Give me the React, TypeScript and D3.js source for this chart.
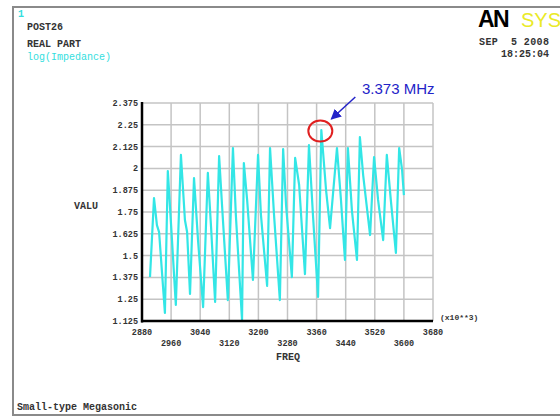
import React from 'react'
import * as d3 from 'd3'

// frequency in kHz (x10**3 Hz on the axis) and log(impedance)
const freq = [
  2902, 2913, 2921, 2927, 2943, 2951, 2960, 2973, 2987, 2998, 3004, 3012,
  3023, 3034, 3048, 3061, 3070, 3081, 3092, 3100, 3116, 3130, 3138, 3155,
  3160, 3169, 3185, 3199, 3207, 3224, 3232, 3243, 3259, 3268, 3276, 3292,
  3301, 3312, 3328, 3339, 3350, 3364, 3373, 3386, 3397, 3416, 3427, 3438,
  3446, 3457, 3471, 3479, 3488, 3507, 3518, 3529, 3543, 3553, 3564, 3578,
  3587, 3595, 3600,
]
const logImp = [
  1.377, 1.830, 1.675, 1.635, 1.171, 1.985, 1.675, 1.217, 2.077, 1.704, 1.635, 1.280,
  1.945, 1.589, 1.205, 1.974, 1.658, 1.234, 2.071, 1.790, 1.245, 2.117, 1.733, 1.131,
  2.031, 1.819, 1.360, 2.077, 1.733, 1.326, 2.117, 1.733, 1.245, 2.111, 1.790, 1.377,
  2.060, 1.905, 1.394, 2.134, 1.733, 1.263, 2.220, 1.876, 1.658, 2.117, 1.819, 1.475,
  2.117, 1.761, 1.475, 2.180, 1.962, 1.618, 2.065, 1.819, 1.589, 2.077, 1.819, 1.515,
  2.117, 1.991, 1.847,
]
const xTicks = [2880, 2960, 3040, 3120, 3200, 3280, 3360, 3440, 3520, 3600, 3680]
const yTicks = [1.125, 1.25, 1.375, 1.5, 1.625, 1.75, 1.875, 2, 2.125, 2.25, 2.375]
const peakFreq = 3373
const peakVal = 2.22

const mono = '"Liberation Mono", "DejaVu Sans Mono", monospace'
const sans = '"Liberation Sans", Arial, sans-serif'

export default function App() {
  const x = d3.scaleLinear().domain([2880, 3680]).range([142, 433])
  const y = d3.scaleLinear().domain([1.125, 2.375]).range([321, 103])
  const pts = freq.map((f, i) => [f, logImp[i]] as [number, number])
  const line = d3.line<[number, number]>().x(d => x(d[0])).y(d => y(d[1]))

  const cx = x(peakFreq) - 1
  const cy = y(peakVal) + 1

  return (
    <svg width={560} height={417} style={{ position: 'fixed', left: 0, top: 0, background: '#fff' }}>
      <defs>
        <marker id="ah" viewBox="0 0 10 10" refX="9" refY="5" markerWidth="7" markerHeight="7" orient="auto">
          <path d="M0,0 L10,5 L0,10 z" fill="#2323c8" />
        </marker>
      </defs>
      <rect x={13} y={7} width={560} height={408} fill="#fff" stroke="#8a8a8a" strokeWidth={2} />

      <g fontFamily={mono} fontSize={10} fontWeight="bold" fill="#333">
        <text x={18} y={17} fill="#33dede">1</text>
        <text x={27} y={30}>POST26</text>
        <text x={27} y={47}>REAL PART</text>
        <text x={27} y={60} fill="#33dede" fontWeight="normal">log(Impedance)</text>
        <text x={549} y={45} textAnchor="end" xmlSpace="preserve" textLength={70}>SEP  5 2008</text>
        <text x={549} y={57} textAnchor="end">18:25:04</text>
        <text x={17} y={410}>Small-type Megasonic</text>
      </g>

      <g fontFamily={sans}>
        <text x={478} y={27} fontSize={23} fontWeight="900" fill="#000" letterSpacing={-1.5}>AN</text>
        <text x={521} y={27} fontSize={20} fill="#eaea28">SYS</text>
      </g>

      {/* grid */}
      <g stroke="#c4c4c4" strokeWidth={1.5}>
        {xTicks.map(t => <line key={'gx' + t} x1={x(t)} x2={x(t)} y1={y(2.375)} y2={y(1.125)} />)}
        {yTicks.map(t => <line key={'gy' + t} x1={x(2880)} x2={x(3680)} y1={y(t)} y2={y(t)} />)}
      </g>

      <path d={line(pts) || ''} fill="none" stroke="#33e6e6" strokeWidth={2.2} strokeLinejoin="round" />

      {/* axes */}
      <line x1={x(2880)} x2={x(2880)} y1={y(2.375) - 1} y2={y(1.125) + 1.5} stroke="#000" strokeWidth={2.5} />
      <line x1={x(2880) - 1} x2={x(3680)} y1={y(1.125)} y2={y(1.125)} stroke="#000" strokeWidth={2.5} />

      <g fontFamily={mono} fontSize={8.5} fontWeight="bold" fill="#333">
        {yTicks.map(t => (
          <text key={'ty' + t} x={138} y={y(t) + 3} textAnchor="end">{String(t)}</text>
        ))}
        {xTicks.map((t, i) => (
          <text key={'tx' + t} x={x(t)} y={i % 2 === 0 ? 335 : 346} textAnchor="middle">{t}</text>
        ))}
        <text x={440} y={320} fontSize={8}>(x10**3)</text>
        <text x={288} y={360} textAnchor="middle" fontSize={10}>FREQ</text>
        <text x={74} y={209} fontSize={10}>VALU</text>
      </g>

      {/* annotation */}
      <ellipse cx={cx} cy={cy} rx={12} ry={10.5} fill="none" stroke="#e02020" strokeWidth={2} />
      <line x1={cx + 35} x2={cx + 11} y1={cy - 34} y2={cy - 12} stroke="#2323c8" strokeWidth={1.5} markerEnd="url(#ah)" />
      <text x={362} y={94} fontFamily={sans} fontSize={15} fill="#2323c8">3.373 MHz</text>
    </svg>
  )
}
